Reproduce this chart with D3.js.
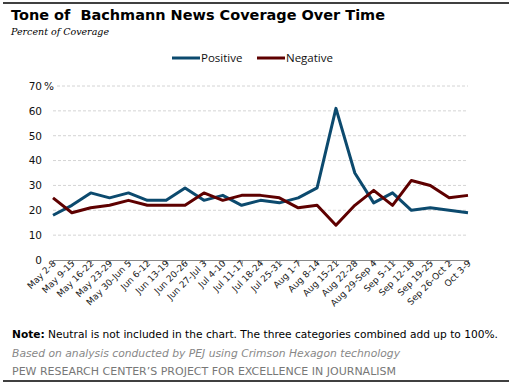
<!DOCTYPE html>
<html>
<head>
<meta charset="utf-8">
<title>Tone of Bachmann News Coverage Over Time</title>
<script src="https://cdn.jsdelivr.net/npm/d3@7"></script>
<style>
    body { margin: 0; background: #fff; }
    svg { display: block; }
    text { font-family: "DejaVu Sans", Verdana, sans-serif; }
</style>
</head>
<body>
<svg id="diagram" width="512" height="386"></svg>
<script>
// data
var wochen = ["May 2-8", "May 9-15", "May 16-22", "May 23-29", "May 30-Jun 5", "Jun 6-12",
    "Jun 13-19", "Jun 20-26", "Jun 27-Jul 3", "Jul 4-10", "Jul 11-17", "Jul 18-24",
    "Jul 25-31", "Aug 1-7", "Aug 8-14", "Aug 15-21", "Aug 22-28", "Aug 29-Sep 4",
    "Sep 5-11", "Sep 12-18", "Sep 19-25", "Sep 26-Oct 2", "Oct 3-9"];
var positiv = [18, 22, 27, 25, 27, 24, 24, 29, 24, 26, 22, 24, 23, 25, 29, 61, 35, 23, 27, 20, 21, 20, 19];
var negativ = [25, 19, 21, 22, 24, 22, 22, 22, 27, 24, 26, 26, 25, 21, 22, 14, 22, 28, 22, 32, 30, 25, 26];
var yTicks = [0, 10, 20, 30, 40, 50, 60, 70];
var serien = [
    {name: "Positive", werte: positiv, farbe: "#0c4a6e"},
    {name: "Negative", werte: negativ, farbe: "#5e0000"}
];

var svg = d3.select("#diagram");

// rahmenlinien oben und unten
svg.append("line").attr("x1", 3).attr("x2", 509).attr("y1", 3).attr("y2", 3)
    .attr("stroke", "#000").attr("stroke-width", 1.5);
svg.append("line").attr("x1", 3).attr("x2", 509).attr("y1", 381).attr("y2", 381)
    .attr("stroke", "#000").attr("stroke-width", 1.5);

// titel
svg.append("text").attr("x", 11).attr("y", 20)
    .attr("font-size", 14).attr("font-weight", "bold")
    .attr("textLength", 374).attr("lengthAdjust", "spacingAndGlyphs")
    .text("Tone of  Bachmann News Coverage Over Time").style("white-space", "pre");
svg.append("text").attr("x", 11).attr("y", 35)
    .style("font-family", "'DejaVu Serif', Georgia, serif")
    .attr("font-size", 10).attr("font-style", "italic")
    .attr("textLength", 98).attr("lengthAdjust", "spacingAndGlyphs")
    .text("Percent of Coverage");

var x = d3.scalePoint().domain(wochen).range([53, 468]);
var y = d3.scaleLinear().domain([0, 70]).range([260, 86]);

// gitterlinien
svg.append("g").selectAll("line")
    .data(yTicks.filter(function (d) { return d > 0; }))
    .enter().append("line")
    .attr("x1", function (d) { return d === 70 ? 57 : 53; })
    .attr("x2", 468)
    .attr("y1", function (d) { return y(d); })
    .attr("y2", function (d) { return y(d); })
    .attr("stroke", "#d4d4d4")
    .attr("stroke-dasharray", "3,2");

// y-achse (nur beschriftung)
var yAchse = svg.append("g")
    .attr("transform", "translate(53,0)")
    .call(d3.axisLeft(y).tickValues(yTicks).tickSize(0).tickPadding(11));
yAchse.select(".domain").remove();
yAchse.selectAll("text").attr("font-size", 10.5).attr("fill", "#111")
    .style("font-family", "'DejaVu Sans', Verdana, sans-serif");
yAchse.selectAll(".tick").filter(function (d) { return d === 70; })
    .append("text")
    .attr("x", -9).attr("dy", "0.32em")
    .attr("text-anchor", "start")
    .attr("font-size", 10.5).attr("fill", "#111")
    .style("font-family", "'DejaVu Sans', Verdana, sans-serif")
    .text("%");

// x-achse
var xAchse = svg.append("g")
    .attr("transform", "translate(0,260)")
    .call(d3.axisBottom(x).tickSize(4).tickSizeOuter(0));
xAchse.select(".domain").attr("stroke", "#888");
xAchse.selectAll(".tick line").attr("stroke", "#888");
xAchse.selectAll("text")
    .attr("font-size", 9).attr("fill", "#222")
    .attr("text-anchor", "end")
    .attr("dy", 0)
    .attr("transform", "translate(3,4) rotate(-45)")
    .attr("y", 0).attr("x", 0)
    .style("font-family", "'DejaVu Sans', Verdana, sans-serif");

// linien
var linie = d3.line()
    .x(function (d, i) { return x(wochen[i]); })
    .y(function (d) { return y(d); });

svg.append("g").selectAll("path")
    .data(serien)
    .enter().append("path")
    .attr("fill", "none")
    .attr("stroke", function (d) { return d.farbe; })
    .attr("stroke-width", 3)
    .attr("stroke-linejoin", "round")
    .attr("d", function (d) { return linie(d.werte); });

// legende
var legendeX = [172, 257];
var legende = svg.append("g").selectAll("g")
    .data(serien)
    .enter().append("g")
    .attr("transform", function (d, i) { return "translate(" + legendeX[i] + ",58)"; });
legende.append("line")
    .attr("x1", 0).attr("x2", 28)
    .attr("stroke", function (d) { return d.farbe; })
    .attr("stroke-width", 3);
legende.append("text")
    .attr("x", 29).attr("dy", "0.35em")
    .attr("font-size", 11.5).attr("fill", "#111")
    .style("font-family", "'Open Sans', sans-serif")
    .text(function (d) { return d.name; });

// fussnoten
var note = svg.append("text").attr("x", 12).attr("y", 338)
    .attr("font-size", 10.5).attr("fill", "#000");
note.append("tspan").attr("font-weight", "bold").text("Note:");
note.append("tspan").text(" Neutral is not included in the chart. The three categories combined add up to 100%.");
note.attr("textLength", 486).attr("lengthAdjust", "spacingAndGlyphs");

svg.append("text").attr("x", 12).attr("y", 357)
    .attr("font-size", 10).attr("font-style", "italic").attr("fill", "#888")
    .attr("textLength", 388).attr("lengthAdjust", "spacingAndGlyphs")
    .text("Based on analysis conducted by PEJ using Crimson Hexagon technology");

svg.append("text").attr("x", 12).attr("y", 375)
    .attr("font-size", 10).attr("fill", "#777")
    .attr("textLength", 384).attr("lengthAdjust", "spacingAndGlyphs")
    .text("PEW RESEARCH CENTER\u2019S PROJECT FOR EXCELLENCE IN JOURNALISM");
</script>
</body>
</html>
